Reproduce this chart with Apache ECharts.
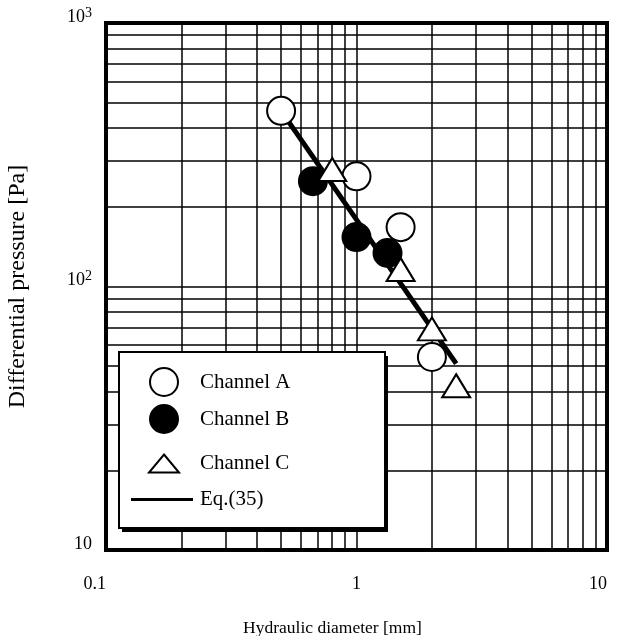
<!DOCTYPE html>
<html>
<head>
<meta charset="utf-8">
<script src="https://cdn.jsdelivr.net/npm/echarts@6/dist/echarts.min.js"></script>
<style>
  html, body { margin: 0; padding: 0; background: #fff; }
  #chart { width: 617px; height: 636px; }
</style>
</head>
<body>
<div id="chart"></div>
<script>
// Measured points: hydraulic diameter [mm] vs differential pressure [Pa]
const channelA = [[0.5, 464], [1.0, 262], [1.5, 168], [2.0, 54]];
const channelB = [[0.67, 251], [1.0, 154], [1.33, 134]];
const channelC = [[0.8, 278], [1.5, 116], [2.0, 69], [2.5, 42]];
// Correlation line Eq.(35), drawn between its two end points
const eq35 = [[0.5, 464], [2.5, 51]];

// Intermediate log grid lines (2..9 within each decade)
const xMinorGrid = [0.2, 0.3, 0.4, 0.5, 0.6, 0.7, 0.8, 0.9, 2, 3, 4, 5, 6, 7, 8, 9];
const yMinorGrid = [20, 30, 40, 50, 60, 70, 80, 90, 200, 300, 400, 500, 600, 700, 800, 900];

const seriesNames = ['Channel A', 'Channel B', 'Channel C', 'Eq.(35)'];

const FONT = 'Liberation Serif';
const ink = '#000';

const chart = echarts.init(document.getElementById('chart'), null, { renderer: 'canvas' });

// One legend per entry so each row can sit at its own height inside the frame
function legendAt(name, left, top, w, h, textPad, icon) {
  return {
    data: [icon ? { name: name, icon: icon } : name],
    left: left,
    top: top,
    padding: 0,
    itemWidth: w,
    itemHeight: h,
    z: 6,
    selectedMode: false,
    textStyle: { fontFamily: FONT, fontSize: 21, color: ink, padding: [0, 0, 0, textPad] }
  };
}

const option = {
  backgroundColor: '#fff',
  animation: false,
  grid: {
    left: 106, top: 23, width: 501, height: 527,
    containLabel: false, outerBoundsMode: 'none',
    show: true, borderWidth: 4, borderColor: ink, backgroundColor: 'transparent'
  },
  xAxis: {
    type: 'log', logBase: 10, min: 0.1, max: 10,
    name: 'Hydraulic diameter [mm]',
    nameLocation: 'middle', nameGap: 69,
    nameTextStyle: { fontFamily: FONT, fontSize: 17.5, color: ink, padding: [0, 48, 0, 0] },
    axisLine: { show: false },
    axisTick: { show: false },
    axisLabel: {
      margin: 25, fontFamily: FONT, fontSize: 18, color: ink,
      alignMinLabel: 'right', alignMaxLabel: 'right',
      formatter: v => (v < 1 ? '0.1' : String(Math.round(v)))
    },
    splitLine: { show: true, lineStyle: { color: ink, width: 1.5 } }
  },
  yAxis: {
    type: 'log', logBase: 10, min: 10, max: 1000,
    name: 'Differential pressure [Pa]',
    nameLocation: 'middle', nameGap: 76,
    nameTextStyle: { fontFamily: FONT, fontSize: 24, color: ink },
    axisLine: { show: false },
    axisTick: { show: false },
    axisLabel: {
      margin: 14, color: ink, verticalAlign: 'middle', padding: [0, 0, 14, 0],
      formatter: v => {
        const e = Math.round(Math.log10(v));
        return e === 1 ? '{b|10}' : '{b|10}{s|' + e + '}';
      },
      rich: {
        b: { fontFamily: FONT, fontSize: 18, color: ink, lineHeight: 20, verticalAlign: 'bottom' },
        s: { fontFamily: FONT, fontSize: 14, color: ink, lineHeight: 12, verticalAlign: 'top' }
      }
    },
    splitLine: { show: true, lineStyle: { color: ink, width: 1.5 } }
  },
  legend: [
    legendAt('Channel A', 149, 367, 28, 28, 17),
    legendAt('Channel B', 149, 404, 28, 28, 17),
    legendAt('Channel C', 148, 453, 30, 18, 16, 'path://M15,0L30,18L0,18Z'),
    legendAt('Eq.(35)', 131, 489, 62, 14, 2, 'path://M0,0H62V3H0Z')
  ],
  graphic: [
    { type: 'rect', z: 4, silent: true, shape: { x: 122, y: 356, width: 266, height: 176 }, style: { fill: ink } },
    { type: 'rect', z: 4, silent: true, shape: { x: 119, y: 352, width: 266, height: 176 }, style: { fill: '#fff', stroke: ink, lineWidth: 2 } }
  ],
  series: [
    {
      name: seriesNames[3], type: 'line', data: eq35, z: 2,
      symbol: 'none', silent: true,
      lineStyle: { color: ink, width: 5, cap: 'butt' },
      itemStyle: { color: ink, borderWidth: 0 },
      markLine: {
        silent: true, symbol: 'none', z: 1, animation: false,
        label: { show: false },
        lineStyle: { color: ink, width: 1.5, type: 'solid' },
        emphasis: { disabled: true },
        data: xMinorGrid.map(v => ({ xAxis: v })).concat(yMinorGrid.map(v => ({ yAxis: v })))
      }
    },
    {
      name: seriesNames[0], type: 'scatter', data: channelA, z: 3,
      symbol: 'circle', symbolSize: 28,
      itemStyle: { color: '#fff', borderColor: ink, borderWidth: 2, opacity: 1 }
    },
    {
      name: seriesNames[1], type: 'scatter', data: channelB, z: 3,
      symbol: 'circle', symbolSize: 28,
      itemStyle: { color: ink, borderColor: ink, borderWidth: 2, opacity: 1 }
    },
    {
      name: seriesNames[2], type: 'scatter', data: channelC, z: 3,
      symbol: 'triangle', symbolSize: [28, 23],
      itemStyle: { color: '#fff', borderColor: ink, borderWidth: 2, opacity: 1 }
    }
  ]
};

chart.setOption(option);
</script>
</body>
</html>
